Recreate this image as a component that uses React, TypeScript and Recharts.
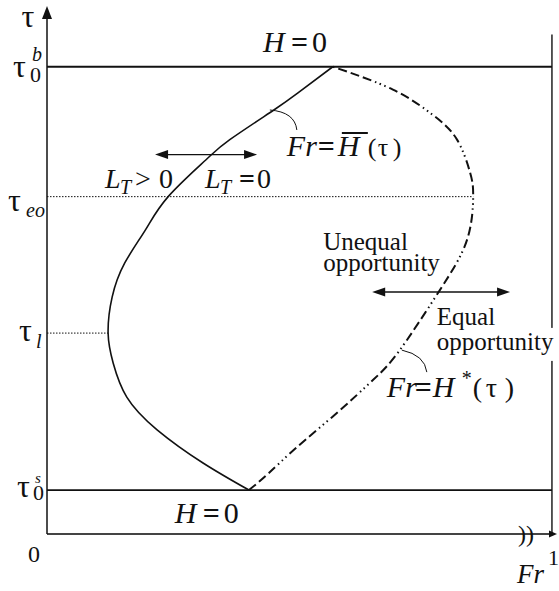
import React from "react";
import { ComposedChart, Line, XAxis, YAxis, ReferenceLine, ReferenceDot } from "recharts";

const SERIF = "Liberation Serif";
const INK = "#111";

// levels marked on the τ axis
const TAU_S = 0.094;
const TAU_L = 0.43;
const TAU_EO = 0.722;
const TAU_B = 1.0;
const TAU_MAX = 1.13;
const FR_MAX = 1.01;

const tauTicks = [TAU_S, TAU_L, TAU_EO, TAU_B];
const tauSubs = ["0", "l", "eo", "0"];
const tauSups = ["s", "", "", "b"];

// solid boundary, Fr = H̄(τ)
const barTau = [0.094, 0.152, 0.223, 0.293, 0.366, 0.43, 0.507, 0.58, 0.651, 0.722, 0.801, 0.844, 0.908, 0.944, 1.0];
const barFr = [0.4, 0.309, 0.218, 0.158, 0.131, 0.121, 0.129, 0.154, 0.195, 0.24, 0.315, 0.362, 0.45, 0.497, 0.566];

// dash-dot boundary, Fr = H*(τ)
const starTau = [0.094, 0.131, 0.186, 0.259, 0.33, 0.394, 0.522, 0.63, 0.722, 0.773, 0.844, 0.897, 0.951, 1.0];
const starFr = [0.4, 0.44, 0.495, 0.574, 0.646, 0.699, 0.778, 0.832, 0.844, 0.838, 0.812, 0.764, 0.685, 0.566];

const barData = barTau.map((tau, i) => ({ tau, fr: barFr[i] }));
const starData = starTau.map((tau, i) => ({ tau, fr: starFr[i] }));

const frAt = (tau: number, taus: number[], frs: number[]) => frs[taus.indexOf(tau)];

const T = ({ x = 0, y = 0, size = 25, italic = false, bold = false, anchor = "start", children }: any) => (
  <text
    x={x}
    y={y}
    textAnchor={anchor}
    fill={INK}
    fontFamily={SERIF}
    fontSize={size}
    fontStyle={italic ? "italic" : "normal"}
    fontWeight={bold ? "bold" : "normal"}
  >
    {children}
  </text>
);

const head = (x: number, y: number, ux: number, uy: number, len: number, half: number) => {
  const bx = x - ux * len;
  const by = y - uy * len;
  return (
    <path
      d={`M${x},${y}L${bx - uy * half},${by + ux * half}L${bx + uy * half},${by - ux * half}Z`}
      fill={INK}
    />
  );
};

// line with filled arrowheads at the end (and start when both is set)
const arrow = (both: boolean, len: number, half: number, width: number, color = INK) => (p: any) => {
  const { x1, y1, x2, y2 } = p;
  const d = Math.hypot(x2 - x1, y2 - y1) || 1;
  const ux = (x2 - x1) / d;
  const uy = (y2 - y1) / d;
  return (
    <g>
      <line
        x1={both ? x1 + ux * len * 0.8 : x1}
        y1={both ? y1 + uy * len * 0.8 : y1}
        x2={x2 - ux * len * 0.8}
        y2={y2 - uy * len * 0.8}
        stroke={color}
        strokeWidth={width}
      />
      {head(x2, y2, ux, uy, len, half)}
      {both && head(x1, y1, -ux, -uy, len, half)}
    </g>
  );
};

const TauTick = ({ y, payload }: any) => {
  const i = tauTicks.indexOf(payload.value);
  const sub = tauSubs[i];
  const sup = tauSups[i];
  if (sub === "eo") {
    return (
      <g>
        <T x={8} y={y + 14} size={32}>τ</T>
        <T x={26} y={y + 20} size={20} italic>eo</T>
      </g>
    );
  }
  if (sub === "l") {
    return (
      <g>
        <T x={19} y={y + 8} size={32}>τ</T>
        <T x={36} y={y + 15} size={20} italic>l</T>
      </g>
    );
  }
  const upper = sup === "b";
  return (
    <g>
      <T x={upper ? 13 : 17} y={y + (upper ? 10 : 7)} size={32}>τ</T>
      <T x={upper ? 30 : 33} y={y + (upper ? 15 : 10)} size={22}>{sub}</T>
      <T x={upper ? 32 : 35} y={y + (upper ? -6 : -7)} size={upper ? 20 : 15} italic>{sup}</T>
    </g>
  );
};

const FrTick = ({ x, payload }: any) =>
  payload.value === 0 ? (
    <T x={x - 19} y={562} size={24}>0</T>
  ) : (
    <T x={x - 4} y={565} size={22}>1</T>
  );

const HZero = ({ cx, cy }: any) => (
  <g transform={`translate(${cx},${cy})`}>
    <T size={30} italic>H</T>
    <T x={28} size={30} bold>=</T>
    <T x={49} size={30}>0</T>
  </g>
);

const HBarNote = ({ cx, cy }: any) => (
  <g transform={`translate(${cx},${cy})`}>
    <path d="M-17,-46 Q8,-44 10,-26" fill="none" stroke={INK} strokeWidth={1} />
    <T size={30} italic>Fr</T>
    <T x={31} size={30} bold>=</T>
    <T x={51} size={30} italic>H</T>
    <line x1={55} y1={-23} x2={81} y2={-23} stroke={INK} strokeWidth={2} />
    <T x={81} size={26}>(</T>
    <T x={91} size={26}>τ</T>
    <T x={106} size={26}>)</T>
  </g>
);

const HStarNote = ({ cx, cy }: any) => (
  <g transform={`translate(${cx},${cy})`}>
    <path d="M15,-47 Q38,-42 40,-25" fill="none" stroke={INK} strokeWidth={1} />
    <T size={30} italic>Fr</T>
    <T x={28} size={30} bold>=</T>
    <T x={46} size={30} italic>H</T>
    <T x={75} y={-12} size={20}>*</T>
    <T x={86} size={28}>(</T>
    <T x={99} size={28}>τ</T>
    <T x={118} size={28}>)</T>
  </g>
);

const LtNote = ({ cx, cy, positive }: any) => (
  <g transform={`translate(${cx},${cy})`}>
    <T size={28} italic>L</T>
    <T x={15} y={6} size={20} italic>T</T>
    {positive ? <T x={30} size={28}>&gt;</T> : <T x={34} size={28} bold>=</T>}
    <T x={positive ? 54 : 52} size={28}>0</T>
  </g>
);

const UnequalNote = ({ cx, cy }: any) => (
  <g transform={`translate(${cx},${cy})`}>
    <T>Unequal</T>
    <T y={21}>opportunity</T>
  </g>
);

const EqualNote = ({ cx, cy }: any) => (
  <g transform={`translate(${cx},${cy})`}>
    <rect x={-2} y={3} width={122} height={33} fill="#fff" />
    <T>Equal</T>
    <T y={25}>opportunity</T>
  </g>
);

export default function App() {
  return (
    <div style={{ position: "absolute", left: 0, top: 0, width: 559, height: 591, background: "#fff" }}>
      <ComposedChart
        width={559}
        height={591}
        layout="vertical"
        margin={{ top: 6, right: 2, bottom: 0, left: 0 }}
      >
        <XAxis
          type="number"
          domain={[0, FR_MAX]}
          ticks={[0, 1]}
          interval={0}
          allowDataOverflow
          axisLine={false}
          tickLine={false}
          height={57}
          tick={<FrTick />}
        />
        <YAxis
          type="number"
          dataKey="tau"
          domain={[0, TAU_MAX]}
          reversed
          ticks={tauTicks}
          interval={0}
          allowDataOverflow
          axisLine={false}
          tickLine={false}
          width={47}
          tick={<TauTick />}
        />

        {/* frame: H = 0 levels and the Fr = 1 bound */}
        <ReferenceLine segment={[{ x: 0, y: TAU_B }, { x: 1, y: TAU_B }]} stroke={INK} strokeWidth={1.8} ifOverflow="visible" />
        <ReferenceLine segment={[{ x: 0, y: TAU_S }, { x: 1, y: TAU_S }]} stroke={INK} strokeWidth={1.8} ifOverflow="visible" />
        <ReferenceLine segment={[{ x: 1, y: 0 }, { x: 1, y: 1.069 }]} stroke={INK} strokeWidth={1.4} ifOverflow="visible" />

        {/* dotted guides to τeo and τl */}
        <ReferenceLine
          segment={[{ x: 0, y: TAU_EO }, { x: frAt(TAU_EO, starTau, starFr), y: TAU_EO }]}
          stroke={INK}
          strokeWidth={1}
          strokeDasharray="1.5 1.5"
          ifOverflow="visible"
        />
        <ReferenceLine
          segment={[{ x: 0, y: TAU_L }, { x: frAt(TAU_L, barTau, barFr), y: TAU_L }]}
          stroke={INK}
          strokeWidth={1}
          strokeDasharray="1.5 1.5"
          ifOverflow="visible"
        />

        {/* axes with arrowheads */}
        <ReferenceLine segment={[{ x: 0, y: 0 }, { x: FR_MAX, y: 0 }]} ifOverflow="visible" shape={arrow(false, 8, 3.5, 1.8, "#444")} />
        <ReferenceLine segment={[{ x: 0, y: 0 }, { x: 0, y: TAU_MAX }]} ifOverflow="visible" shape={arrow(false, 13, 5, 1.5)} />

        <Line data={barData} dataKey="fr" type="natural" stroke={INK} strokeWidth={1.6} dot={false} activeDot={false} isAnimationActive={false} />
        <Line
          data={starData}
          dataKey="fr"
          type="natural"
          stroke={INK}
          strokeWidth={2}
          strokeDasharray="9 4 9 4 9 4 1.5 3.5 1.5 3.5 1.5 4"
          dot={false}
          activeDot={false}
          isAnimationActive={false}
        />

        {/* direction arrows */}
        <ReferenceLine segment={[{ x: 0.214, y: 0.812 }, { x: 0.416, y: 0.812 }]} ifOverflow="visible" shape={arrow(true, 13, 4.5, 1.4)} />
        <ReferenceLine segment={[{ x: 0.644, y: 0.518 }, { x: 0.917, y: 0.518 }]} ifOverflow="visible" shape={arrow(true, 13, 4.5, 1.4)} />

        {/* annotations */}
        <ReferenceDot x={0} y={TAU_MAX} ifOverflow="visible" shape={(p: any) => <T x={p.cx - 19} y={p.cy + 21} size={32} anchor="middle">τ</T>} />
        <ReferenceDot x={1} y={0} ifOverflow="visible" shape={(p: any) => <T x={p.cx - 35} y={p.cy + 49} size={27} italic>Fr</T>} />
        <ReferenceDot x={0.933} y={0} ifOverflow="visible" shape={(p: any) => <T x={p.cx} y={p.cy + 8} size={24}>))</T>} />
        <ReferenceDot x={0.428} y={1.032} ifOverflow="visible" shape={(p: any) => <HZero {...p} />} />
        <ReferenceDot x={0.253} y={0.0236} ifOverflow="visible" shape={(p: any) => <HZero {...p} />} />
        <ReferenceDot x={0.475} y={0.809} ifOverflow="visible" shape={(p: any) => <HBarNote {...p} />} />
        <ReferenceDot x={0.673} y={0.293} ifOverflow="visible" shape={(p: any) => <HStarNote {...p} />} />
        <ReferenceDot x={0.115} y={0.741} ifOverflow="visible" shape={(p: any) => <LtNote {...p} positive />} />
        <ReferenceDot x={0.313} y={0.741} ifOverflow="visible" shape={(p: any) => <LtNote {...p} />} />
        <ReferenceDot x={0.547} y={0.608} ifOverflow="visible" shape={(p: any) => <UnequalNote {...p} />} />
        <ReferenceDot x={0.772} y={0.4475} ifOverflow="visible" shape={(p: any) => <EqualNote {...p} />} />
      </ComposedChart>
    </div>
  );
}
